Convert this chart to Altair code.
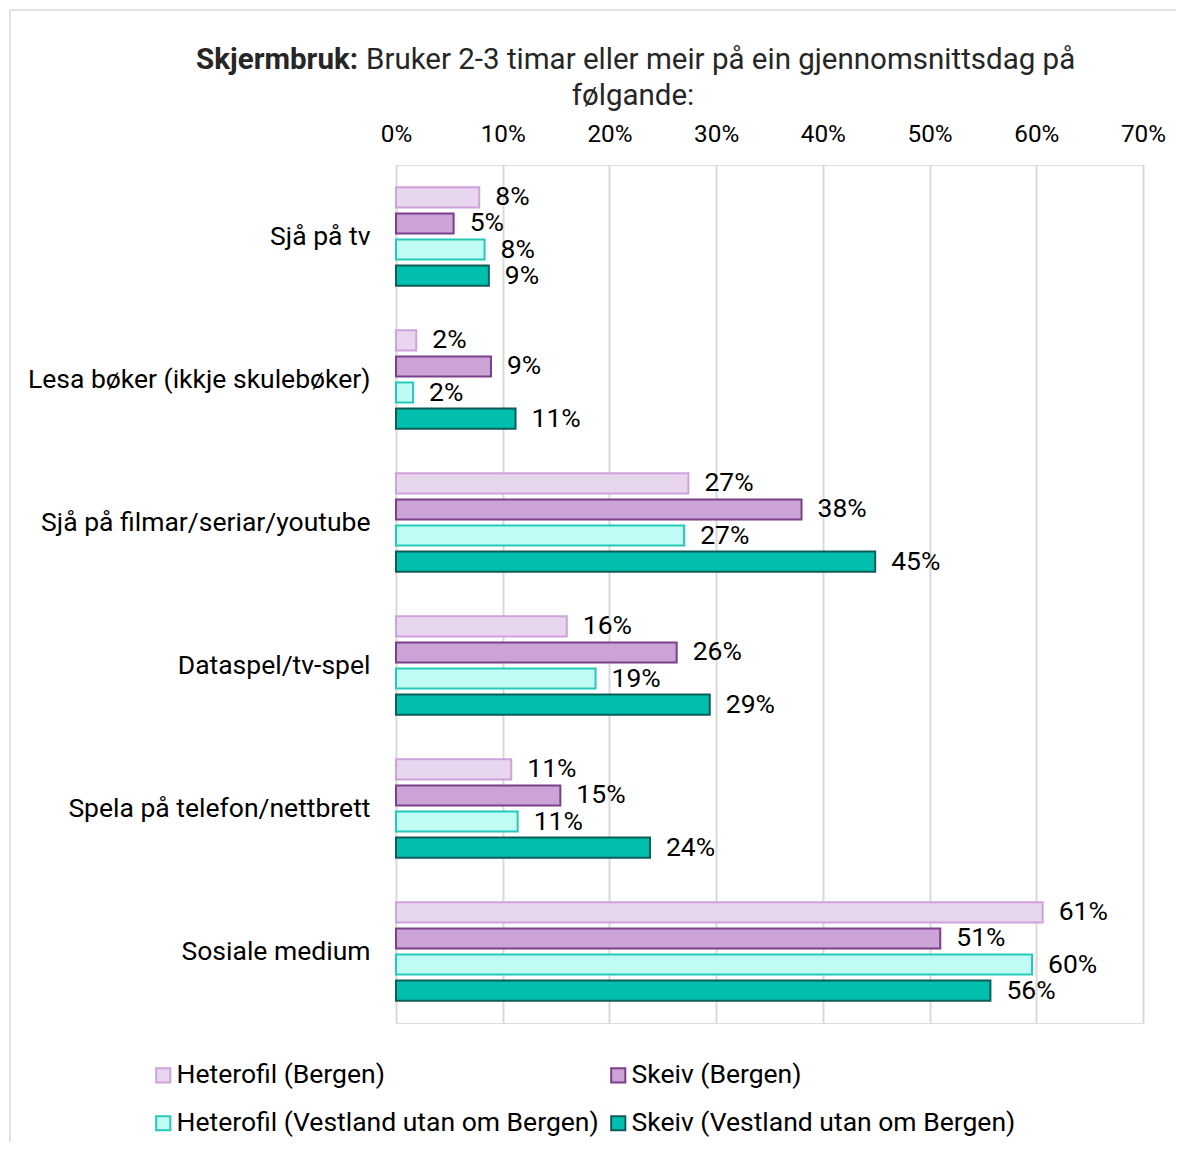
import altair as alt
import pandas as pd

categories = ["Sjå på tv", "Lesa bøker (ikkje skulebøker)", "Sjå på filmar/seriar/youtube",
              "Dataspel/tv-spel", "Spela på telefon/nettbrett", "Sosiale medium"]
groups = ["Heterofil (Bergen)", "Skeiv (Bergen)",
          "Heterofil (Vestland utan om Bergen)", "Skeiv (Vestland utan om Bergen)"]
het_bergen = [0.078, 0.019, 0.274, 0.160, 0.108, 0.606]
skeiv_bergen = [0.054, 0.089, 0.380, 0.263, 0.154, 0.510]
het_vest = [0.083, 0.016, 0.270, 0.187, 0.114, 0.596]
skeiv_vest = [0.087, 0.112, 0.449, 0.294, 0.238, 0.557]
fills = ["#E8D6EE", "#CBA3D6", "#C0FBF4", "#00BFAE"]
strokes = ["#CFA2DC", "#7B3F8C", "#25C9B8", "#0D5E57"]
x_ticks = [0, 0.1, 0.2, 0.3, 0.4, 0.5, 0.6, 0.7]

rows = []
for g, vals in zip(groups, [het_bergen, skeiv_bergen, het_vest, skeiv_vest]):
    for c, v in zip(categories, vals):
        rows.append({"cat": c, "grp": g, "val": v})
df = pd.DataFrame(rows)

FONT = "Roboto"
W, H = 747, 858
FS = 26.5

x_enc = alt.X("val:Q", scale=alt.Scale(domain=[0, 0.7], nice=False),
              axis=alt.Axis(orient="top", values=x_ticks, format=".0%", title=None,
                            labelFontSize=24.3, labelColor="#000000", labelFont=FONT,
                            labelPadding=19, labelFlush=False, ticks=False, domain=False,
                            grid=True, gridColor="#d9d9d9", gridWidth=2))
y_enc = alt.Y("cat:N", sort=categories,
              scale=alt.Scale(paddingInner=0.27, paddingOuter=0.135),
              axis=alt.Axis(title=None, labelFontSize=FS, labelColor="#000000", labelFont=FONT,
                            labelPadding=26, ticks=False, domain=False, grid=False,
                            labelLimit=600))
yoff = alt.YOffset("grp:N", sort=groups, scale=alt.Scale(paddingInner=0.23, paddingOuter=0.115))


def make_legend():
    return alt.Legend(title=None, orient="none", legendX=-246, legendY=897, padding=0,
                      direction="horizontal", columns=2, columnPadding=6, rowPadding=21,
                      symbolType="square", symbolSize=200, symbolStrokeWidth=2,
                      labelFontSize=FS, labelFont=FONT, labelColor="#000000",
                      labelLimit=700, symbolOffset=0, labelOffset=0)


bars = alt.Chart(df).mark_bar(strokeWidth=2).encode(
    x=x_enc, y=y_enc, yOffset=yoff,
    fill=alt.Fill("grp:N", scale=alt.Scale(domain=groups, range=fills), legend=make_legend()),
    stroke=alt.Stroke("grp:N", scale=alt.Scale(domain=groups, range=strokes), legend=make_legend()),
)

labels = alt.Chart(df).mark_text(align="left", baseline="middle", dx=16, fontSize=FS,
                                 font=FONT, color="#000000").encode(
    x="val:Q", y=alt.Y("cat:N", sort=categories), yOffset=alt.YOffset("grp:N", sort=groups),
    text=alt.Text("val:Q", format=".0%"))

one = pd.DataFrame({"a": [0]})
frame = alt.Chart(one).mark_rect(fill="transparent", stroke="#d9d9d9", strokeWidth=1.5).encode(
    x=alt.value(-386), x2=alt.value(1300), y=alt.value(-155), y2=alt.value(1300))
t_bold = alt.Chart(one).mark_text(align="right", baseline="middle", fontSize=29.5, font=FONT,
                                  fontWeight="bold", color="#262626").encode(
    x=alt.value(-38), y=alt.value(-105), text=alt.value("Skjermbruk:"))
t_reg = alt.Chart(one).mark_text(align="left", baseline="middle", fontSize=29.5, font=FONT,
                                 color="#262626").encode(
    x=alt.value(-30), y=alt.value(-105),
    text=alt.value("Bruker 2-3 timar eller meir på ein gjennomsnittsdag på"))
t_line2 = alt.Chart(one).mark_text(align="center", baseline="middle", fontSize=29.5, font=FONT,
                                   color="#262626").encode(
    x=alt.value(237), y=alt.value(-69), text=alt.value("følgande:"))

chart = alt.layer(frame, bars, labels, t_bold, t_reg, t_line2).properties(
    width=W, height=H,
    autosize=alt.AutoSizeParams(type="none"),
    padding={"left": 388, "top": 157, "right": 33, "bottom": 119},
).configure_view(stroke="transparent", strokeWidth=0, strokeOpacity=0).configure_axis(
    domain=False).configure(background="white")

chart.save("out.html", embed_options={"renderer": "svg", "actions": False})
